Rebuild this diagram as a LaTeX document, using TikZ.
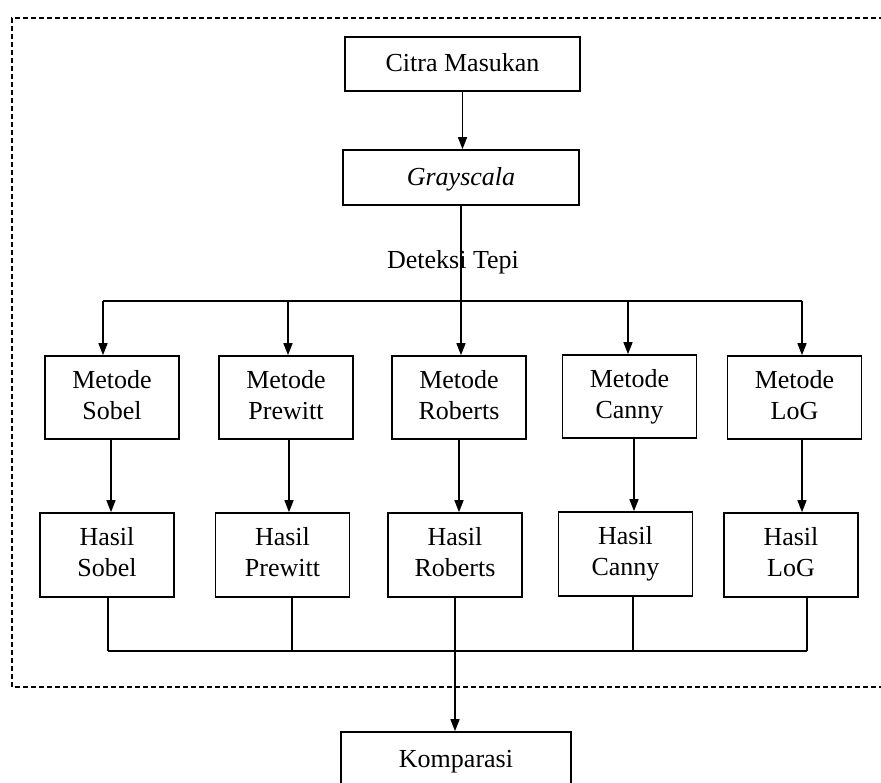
\documentclass[tikz,border=0pt]{standalone}
\usepackage{fontspec}
\setmainfont{Liberation Serif}
\usetikzlibrary{arrows.meta}
\newcommand\bxstrut{\rule[-6pt]{0pt}{28pt}}
\begin{document}
\begin{tikzpicture}[x=1pt,y=-1pt,
  box/.style={draw,line width=1.6pt,minimum width=134pt,minimum height=83pt,inner sep=0pt,align=center,font=\fontsize{26}{31}\selectfont,
    execute at begin node=\bxstrut, execute at end node=\bxstrut},
  lbl/.style={inner sep=0pt,font=\fontsize{26}{31}\selectfont},
  arr/.style={-{Triangle[length=12pt,width=9pt]},line width=1.4pt},
  ln/.style={line width=1.4pt},
  frame/.style={dash pattern=on 5pt off 3pt,line width=1.2pt}]
\useasboundingbox (0,0) rectangle (881,783);
\begin{scope}
  \clip (0,0) rectangle (881,783);
  \draw[frame] (900,18) -- (12,18) -- (12,687) -- (900,687);
  \node[box,minimum width=230pt,minimum height=54pt] (k) at (456,759) {Komparasi};
\end{scope}
% top
\node[box,minimum width=235pt,minimum height=54pt] (c) at (462.5,64) {Citra Masukan};
\node[box,minimum width=236pt,minimum height=55pt] (g) at (461,177.5) {\textit{Grayscala}};
\node[lbl] (dt) at (453,262) {Deteksi Tepi};
% metode
\node[box] (m1) at (112,397.5) {Metode\\Sobel};
\node[box] (m2) at (286,397.5) {Metode\\Prewitt};
\node[box] (m3) at (459,397.5) {Metode\\Roberts};
\node[box] (m4) at (629.5,396.5) {Metode\\Canny};
\node[box] (m5) at (794.5,397.5) {Metode\\LoG};
% hasil
\node[box,minimum height=84pt] (h1) at (107,555) {Hasil\\Sobel};
\node[box,minimum height=84pt] (h2) at (282.5,555) {Hasil\\Prewitt};
\node[box,minimum height=84pt] (h3) at (455,555) {Hasil\\Roberts};
\node[box,minimum height=84pt] (h4) at (625.5,554) {Hasil\\Canny};
\node[box,minimum height=84pt] (h5) at (791,555) {Hasil\\LoG};
% connectors top
\draw[arr] (c.south) -- (c.south |- g.north);
\coordinate (b1) at (103,301);
\coordinate (b2) at (288,301);
\coordinate (b3) at (461,301);
\coordinate (b4) at (628,301);
\coordinate (b5) at (802,301);
\draw[ln] (b1) -- (b5);
\draw[ln] (g.south) -- (b3);
\draw[arr] (b1) -- (b1 |- m1.north);
\draw[arr] (b2) -- (b2 |- m2.north);
\draw[arr] (b3) -- (b3 |- m3.north);
\draw[arr] (b4) -- (b4 |- m4.north);
\draw[arr] (b5) -- (b5 |- m5.north);
% metode -> hasil
\coordinate (a1) at (111,439);
\coordinate (a2) at (289,439);
\coordinate (a3) at (459,439);
\coordinate (a4) at (634,439);
\coordinate (a5) at (802,439);
\draw[arr] (a1) -- (a1 |- h1.north);
\draw[arr] (a2) -- (a2 |- h2.north);
\draw[arr] (a3) -- (a3 |- h3.north);
\draw[arr] (a4) -- (a4 |- h4.north);
\draw[arr] (a5) -- (a5 |- h5.north);
% hasil -> bar
\coordinate (e1) at (108,651);
\coordinate (e2) at (292,651);
\coordinate (e3) at (455,651);
\coordinate (e4) at (633,651);
\coordinate (e5) at (807,651);
\draw[ln] (e1 |- h1.south) -- (e1);
\draw[ln] (e2 |- h2.south) -- (e2);
\draw[ln] (e4 |- h4.south) -- (e4);
\draw[ln] (e5 |- h5.south) -- (e5);
\draw[ln] (e1) -- (e5);
\draw[arr] (e3 |- h3.south) -- (e3 |- k.north);
\end{tikzpicture}
\end{document}
